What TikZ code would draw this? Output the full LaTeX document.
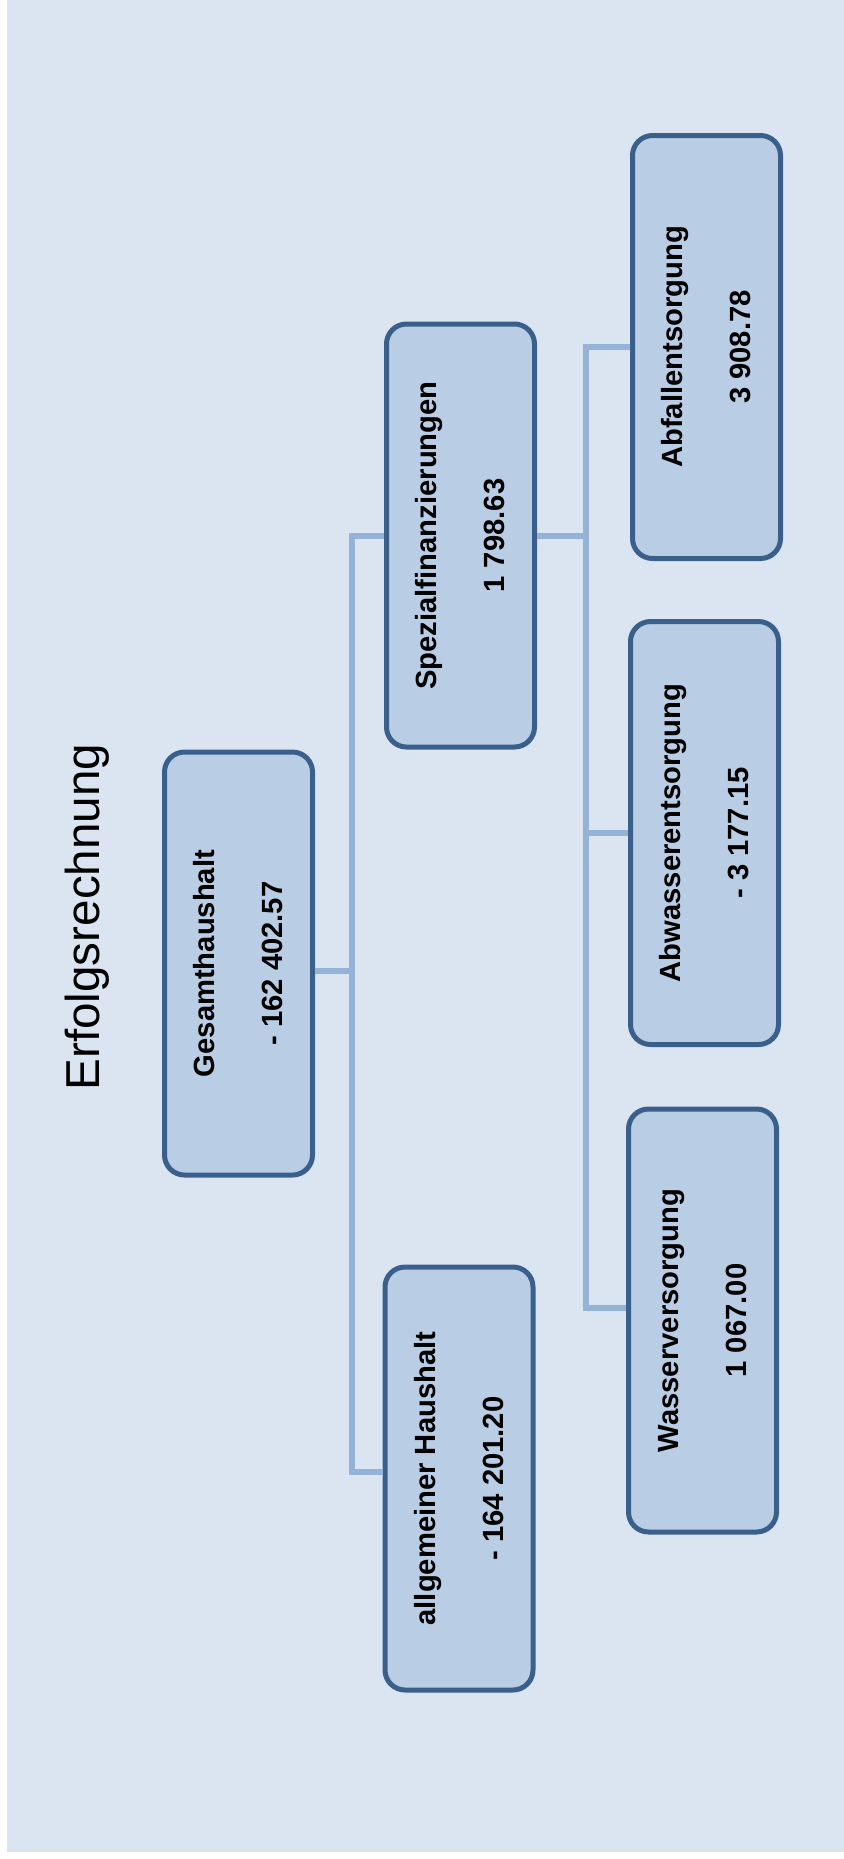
\documentclass[tikz,border=0pt]{standalone}
\usepackage{fontspec}
\setmainfont{Liberation Sans}
\definecolor{fondo}{HTML}{DBE5F1}
\definecolor{caja}{HTML}{B9CDE5}
\definecolor{borde}{HTML}{3A5F8B}
\definecolor{linea}{HTML}{95B3D7}
\tikzset{
    konto/.style={rotate=90, draw=borde, fill=caja, line width=2.5pt, rounded corners=10pt,
        minimum width=211.5pt, minimum height=74pt, inner sep=0pt, align=center,
        font=\fontsize{14.6}{17}\selectfont\bfseries},
    ast/.style={draw=linea, line width=3pt}
}
\begin{document}
\begin{tikzpicture}[x=0.5pt, y=-0.5pt]
    % Hintergrund
    \useasboundingbox (0,0) rectangle (844,1859);
    \fill[fondo] (7,0) rectangle (844,1852);
    % Titel
    \node[rotate=90, font=\fontsize{23.8}{28}\selectfont] (titel) at (87,917) {Erfolgsrechnung};
    % Konten
    \node[konto] (gesamt) at (238.5,963.5) {Gesamthaushalt\\[17pt]- 162 402.57};
    \node[konto] (spezial) at (460.5,535.5) {Spezialfinanzierungen\\[17pt]1 798.63};
    \node[konto] (allg) at (459,1478.5) {allgemeiner Haushalt\\[17pt]- 164 201.20};
    \node[konto] (abfall) at (706.5,347) {Abfallentsorgung\\[17pt]3 908.78};
    \node[konto] (abwasser) at (704.5,833) {Abwasserentsorgung\\[17pt]- 3 177.15};
    \node[konto] (wasser) at (702.5,1320.5) {Wasserversorgung\\[17pt]1 067.00};
    % Verbindungen
    \coordinate (k1) at (352,0);
    \coordinate (k2) at (586,0);
    \coordinate (g1) at ([yshift=-3.75pt]gesamt.south);
    \coordinate (a1) at ([yshift=3.25pt]allg.north);
    \coordinate (w1) at ([yshift=6.25pt]wasser.north);
    \draw[ast] (g1) -- (g1 -| k1);
    \draw[ast] (spezial.north) -- (k1 |- spezial.north) -- (k1 |- a1) -- (a1);
    \draw[ast] (spezial.south) -- (spezial.south -| k2);
    \draw[ast] (abfall.north) -- (k2 |- abfall.north) -- (k2 |- w1) -- (w1);
    \draw[ast] (abwasser.north) -- (abwasser.north -| k2);
\end{tikzpicture}
\end{document}
